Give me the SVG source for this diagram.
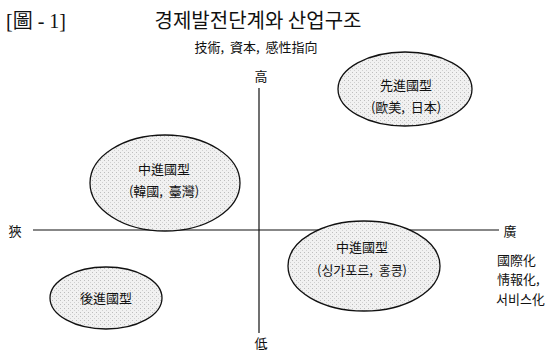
<svg xmlns="http://www.w3.org/2000/svg" width="554" height="353" viewBox="0 0 554 353">
<style>
text{font-family:"Noto Sans CJK KR","Noto Sans CJK TC",sans-serif;fill:#111;}
.lbl{font-size:13px;text-anchor:middle;}
.ell{fill:url(#dots);stroke:#111;stroke-width:1.3;}
.ax{stroke:#111;stroke-width:1.2;fill:none;}
.side{font-size:13px;}
</style>
<defs>
<pattern id="dots" width="4" height="4" patternUnits="userSpaceOnUse">
<rect width="4" height="4" fill="#f1f1f1"/>
<rect x="0" y="0" width="1" height="1" fill="#bdbdbd"/>
<rect x="2" y="2" width="1" height="1" fill="#d0d0d0"/>
</pattern>
</defs>
<rect width="554" height="353" fill="#fff"/>
<text x="6" y="28" xml:space="preserve" style="font-family:'Liberation Serif','Noto Sans CJK TC',serif;font-size:20px">[圖 - 1]</text>
<text x="258" y="28" style="font-size:20px;text-anchor:middle">경제발전단계와 산업구조</text>
<text x="256" y="52" xml:space="preserve" style="font-size:13px;text-anchor:middle">技術,  資本,  感性指向</text>
<g id="connectors">
<line class="ax" x1="259" y1="88" x2="259" y2="333"/>
<line class="ax" x1="33" y1="230" x2="499" y2="230"/>
</g>
<g id="axis-labels">
<text class="lbl" x="261" y="81">高</text>
<text class="lbl" x="261" y="348">低</text>
<text class="lbl" x="15" y="236">狹</text>
<text class="lbl" x="510" y="236">廣</text>
<text class="side" x="497" y="265">國際化</text>
<text class="side" x="497" y="284">情報化,</text>
<text class="side" x="496" y="304">서비스化</text>
</g>
<g id="advanced">
<ellipse class="ell" cx="405" cy="89" rx="67" ry="37"/>
<text class="lbl" x="406" y="90">先進國型</text>
<text class="lbl" x="406" y="112" xml:space="preserve">(歐美,  日本)</text>
</g>
<g id="middle-kt">
<ellipse class="ell" cx="165" cy="183" rx="75" ry="48"/>
<text class="lbl" x="164" y="174">中進國型</text>
<text class="lbl" x="164" y="196" xml:space="preserve">(韓國,  臺灣)</text>
</g>
<g id="middle-sh">
<ellipse class="ell" cx="364" cy="266" rx="76" ry="45"/>
<text class="lbl" x="362" y="252">中進國型</text>
<text class="lbl" x="362" y="275" xml:space="preserve">(싱가포르,  홍콩)</text>
</g>
<g id="backward">
<ellipse class="ell" cx="106" cy="298" rx="56" ry="31"/>
<text class="lbl" x="106" y="303">後進國型</text>
</g>
</svg>
